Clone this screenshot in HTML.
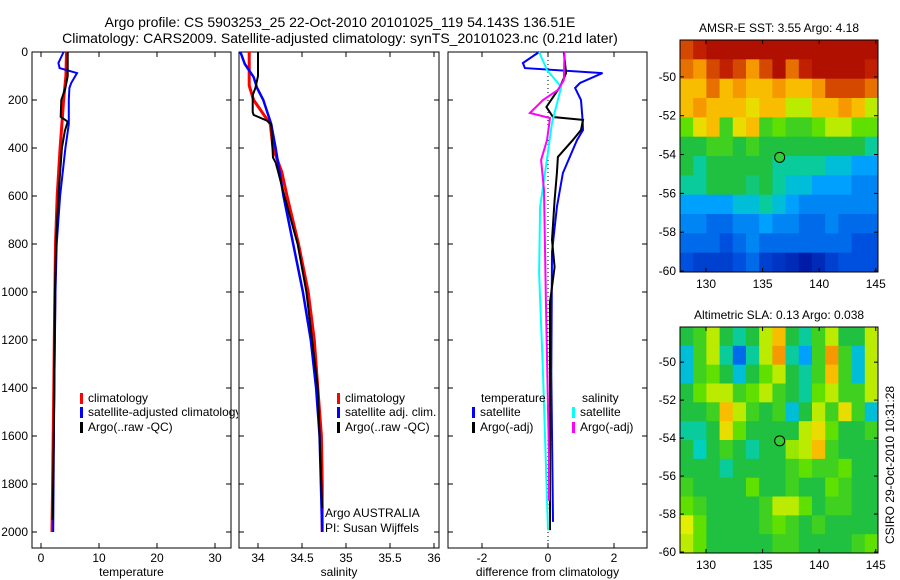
<!DOCTYPE html>
<html><head><meta charset="utf-8"><style>
body{margin:0;background:#fff;}
svg{display:block;font-family:"Liberation Sans",sans-serif;}
</style></head><body>
<svg id="c" width="900" height="580" xmlns="http://www.w3.org/2000/svg">
<defs><clipPath id="p1clip"><rect x="0" y="0" width="238" height="580"/></clipPath></defs>
<text x="340" y="27" font-size="14" text-anchor="middle">Argo profile: CS 5903253_25 22-Oct-2010 20101025_119 54.143S 136.51E</text>
<text x="340" y="43" font-size="14" text-anchor="middle">Climatology: CARS2009. Satellite-adjusted climatology: synTS_20101023.nc (0.21d later)</text>
</svg>
<script>
// ---- data ----
const depthTicks=[0,200,400,600,800,1000,1200,1400,1600,1800,2000];
const tempTicks=[0,10,20,30];
const salTicks=[34,34.5,35,35.5,36];
const diffTicks=[-2,0,2];
const tClimDepth=[0,100,200,300,400,600,800,1000,1200,1400,1600,1800,2000];
const tClimVal=[4.4,4.3,3.9,3.6,3.3,2.8,2.5,2.4,2.3,2.2,2.1,2.0,1.9];
const tSatDepth=[0,46,67,88,129,150,200,300,400,600,800,1000,1400,2000];
const tSatVal=[3.9,3.0,3.2,6.2,5.2,4.9,4.8,4.8,4.2,3.3,2.7,2.5,2.3,2.1];
const tArgoDepth=[0,100,150,200,270,290,330,400,600,800,1000,1400,1800,1950];
const tArgoVal=[4.6,4.6,4.2,3.5,3.4,4.6,4.1,3.6,3.0,2.6,2.4,2.3,2.1,2.0];
const sClimDepth=[0,140,200,300,400,500,600,800,1000,1200,1400,1600,1800,2000];
const sClimVal=[33.9,33.9,33.95,34.14,34.17,34.27,34.33,34.46,34.57,34.64,34.68,34.72,34.73,34.73];
const sSatDepth=[0,50,104,150,200,300,400,600,800,1000,1200,1400,1600,2000];
const sSatVal=[33.8,33.85,33.95,33.99,34.06,34.15,34.2,34.29,34.4,34.51,34.6,34.66,34.7,34.73];
const sArgoDepth=[0,100,150,180,250,262,286,300,440,460,500,600,800,1000,1400,1900];
const sArgoVal=[34.0,34.0,33.97,33.94,33.94,33.95,34.1,34.15,34.17,34.2,34.23,34.3,34.45,34.55,34.68,34.73];
const dTSatDepth=[0,46,67,88,129,150,200,283,325,367,504,646,833,1340,1958];
const dTSatVal=[-0.27,-0.76,-0.7,1.65,0.97,0.82,1.0,1.05,1.06,0.88,0.45,0.27,0.12,0.1,0.15];
const dTArgoDepth=[0,88,146,229,271,283,325,367,437,504,617,783,896,1042,1992];
const dTArgoVal=[0.48,0.55,0.36,-0.05,0.15,1.06,1.0,0.75,0.3,0.27,0.2,0.12,0.2,0.06,0.06];
const dSSatDepth=[0,75,146,296,504,646,921,1338,1992];
const dSSatVal=[-0.27,-0.03,0.4,0.12,-0.09,-0.24,-0.27,-0.15,0.0];
const dSArgoDepth=[0,117,158,200,254,275,367,450,575,1062,1688,1870];
const dSArgoVal=[0.5,0.48,0.3,-0.15,-0.55,0.06,-0.03,-0.21,-0.12,-0.06,0.03,0.03];
const sstGrid=[
[0.85,0.9,0.95,0.95,0.95,0.95,0.95,0.95,0.95,0.95,0.95,0.95,0.95,0.95,0.95],
[0.8,0.75,0.85,0.9,0.85,0.75,0.85,0.95,0.8,0.9,0.95,0.95,0.95,0.95,0.9],
[0.7,0.7,0.8,0.7,0.75,0.7,0.7,0.75,0.7,0.7,0.75,0.85,0.85,0.85,0.8],
[0.7,0.75,0.7,0.7,0.7,0.65,0.7,0.7,0.6,0.6,0.7,0.7,0.75,0.7,0.6],
[0.55,0.65,0.7,0.5,0.65,0.7,0.5,0.55,0.5,0.5,0.55,0.6,0.6,0.55,0.55],
[0.45,0.45,0.5,0.5,0.45,0.5,0.45,0.45,0.45,0.45,0.45,0.45,0.45,0.45,0.4],
[0.45,0.4,0.45,0.45,0.45,0.45,0.45,0.4,0.4,0.4,0.4,0.35,0.35,0.3,0.3],
[0.4,0.4,0.45,0.45,0.45,0.42,0.45,0.4,0.35,0.35,0.3,0.3,0.3,0.25,0.25],
[0.3,0.3,0.3,0.3,0.35,0.35,0.4,0.35,0.3,0.25,0.25,0.25,0.25,0.25,0.25],
[0.25,0.25,0.2,0.2,0.25,0.25,0.3,0.25,0.25,0.2,0.2,0.25,0.2,0.2,0.2],
[0.2,0.2,0.2,0.15,0.2,0.25,0.2,0.2,0.2,0.2,0.2,0.2,0.2,0.15,0.15],
[0.15,0.12,0.12,0.12,0.15,0.2,0.12,0.1,0.08,0.05,0.08,0.12,0.15,0.15,0.15]];
const slaGrid=[
[0.45,0.5,0.6,0.45,0.4,0.45,0.6,0.7,0.45,0.4,0.5,0.6,0.45,0.45,0.6],
[0.35,0.5,0.6,0.4,0.2,0.4,0.6,0.75,0.4,0.3,0.5,0.75,0.5,0.35,0.6],
[0.35,0.5,0.55,0.45,0.35,0.45,0.55,0.6,0.45,0.4,0.5,0.7,0.5,0.35,0.6],
[0.45,0.55,0.6,0.6,0.5,0.55,0.6,0.5,0.45,0.4,0.55,0.6,0.5,0.5,0.6],
[0.45,0.45,0.5,0.7,0.6,0.5,0.45,0.5,0.35,0.45,0.6,0.5,0.65,0.5,0.35],
[0.4,0.4,0.45,0.65,0.55,0.45,0.45,0.45,0.45,0.6,0.65,0.55,0.45,0.45,0.5],
[0.45,0.38,0.45,0.5,0.45,0.4,0.45,0.45,0.58,0.6,0.7,0.5,0.45,0.45,0.45],
[0.45,0.45,0.45,0.4,0.45,0.45,0.45,0.45,0.5,0.55,0.5,0.5,0.55,0.45,0.45],
[0.5,0.45,0.45,0.45,0.45,0.55,0.45,0.45,0.5,0.45,0.45,0.55,0.5,0.45,0.45],
[0.55,0.5,0.45,0.45,0.45,0.45,0.5,0.6,0.6,0.55,0.45,0.5,0.5,0.45,0.45],
[0.62,0.55,0.45,0.45,0.45,0.45,0.5,0.55,0.5,0.45,0.5,0.45,0.45,0.45,0.45],
[0.6,0.55,0.45,0.45,0.45,0.45,0.45,0.5,0.5,0.45,0.45,0.45,0.45,0.5,0.55]];
const lonTicks=[130,135,140,145];
const latTicks=[-50,-52,-54,-56,-58,-60];
const argoLon=136.51, argoLat=-54.143;

// ---- drawing ----
const NS="http://www.w3.org/2000/svg";
const svg=document.getElementById('c');
function el(tag,attrs,parent){const e=document.createElementNS(NS,tag);for(const k in attrs)e.setAttribute(k,attrs[k]);(parent||svg).appendChild(e);return e;}
function txt(x,y,s,attrs){const t=el('text',Object.assign({x:x,y:y,'font-size':12},attrs||{}));t.textContent=s;return t;}
const Y0=52, YPX=0.24, YB=548;
const yD=d=>Y0+d*YPX;
function panel(name,x0,x1,ticks,scale,xlabel,showY){
  const g=el('g',{});
  
  
  el('rect',{x:x0,y:Y0,width:x1-x0,height:YB-Y0,fill:'none',stroke:'#000','stroke-width':1},g);
  ticks.forEach(v=>{const x=scale(v);
    el('line',{x1:x,x2:x,y1:YB,y2:YB-5,stroke:'#000'},g);
    el('line',{x1:x,x2:x,y1:Y0,y2:Y0+5,stroke:'#000'},g);
    const t=txt(x,562,String(v),{'text-anchor':'middle'});
    
    
  });
  depthTicks.forEach(d=>{const y=yD(d);
    el('line',{x1:x0,x2:x0+5,y1:y,y2:y,stroke:'#000'},g);
    el('line',{x1:x1,x2:x1-5,y1:y,y2:y,stroke:'#000'},g);
    if(showY){const t=txt(x0-4,y+4,String(d),{'text-anchor':'end'});
      
      }
  });
  const l=txt((x0+x1)/2,576,xlabel,{'text-anchor':'middle'});
  
  
}
function series(name,depths,vals,scale,color,w){
  const p=depths.map((d,i)=>scale(vals[i]).toFixed(1)+','+yD(d).toFixed(1)).join(' ');
  const e=el('polyline',{points:p,fill:'none',stroke:color,'stroke-width':w||2});
  
  
}
function legend(x,y,color,label,name){
  const r=el('rect',{x:x,y:y-9,width:3,height:11,fill:color});
  
  
  const t=txt(x+8,y,label);
  
  
  return t;
}
const sT=v=>41+v*5.8, sS=v=>258+(v-34)*88, sD=v=>548+v*33;
panel('temperature-panel',32,231,tempTicks,sT,'temperature',true);
panel('salinity-panel',239,439,salTicks,sS,'salinity',false);
panel('difference-panel',448,647,diffTicks,sD,'difference from climatology',false);
const z=el('line',{x1:sD(0),x2:sD(0),y1:Y0,y2:YB,stroke:'#000','stroke-dasharray':'1,3'});


series('temp-climatology',tClimDepth,tClimVal,sT,'#f00',3);
series('temp-satellite-adjusted',tSatDepth,tSatVal,sT,'#00f',2);
series('temp-argo',tArgoDepth,tArgoVal,sT,'#000',2);
series('sal-climatology',sClimDepth,sClimVal,sS,'#f00',3);
series('sal-satellite-adjusted',sSatDepth,sSatVal,sS,'#00f',2.5);
series('sal-argo',sArgoDepth,sArgoVal,sS,'#000',2);
series('diff-temp-satellite',dTSatDepth,dTSatVal,sD,'#00f',2);
series('diff-temp-argo',dTArgoDepth,dTArgoVal,sD,'#000',2);
series('diff-sal-satellite',dSSatDepth,dSSatVal,sD,'#0ff',2);
series('diff-sal-argo',dSArgoDepth,dSArgoVal,sD,'#f0f',2);
legend(80,402,'#f00','climatology','legend-climatology');
const lt=legend(80,416,'#00f','satellite-adjusted climatology','legend-satellite-adjusted');
lt.setAttribute('clip-path','url(#p1clip)');
legend(80,431,'#000','Argo(..raw -QC)','legend-argo');
legend(337,402,'#f00','climatology','legend-sal-climatology');
legend(337,416,'#00f','satellite adj. clim.','legend-sal-satellite');
legend(337,431,'#000','Argo(..raw -QC)','legend-sal-argo');
let t=txt(481,402,'temperature');
t=txt(582,402,'salinity');
legend(472,416,'#00f','satellite','legend-diff-temp-satellite');
legend(472,431,'#000','Argo(-adj)','legend-diff-temp-argo');
legend(572,416,'#0ff','satellite','legend-diff-sal-satellite');
legend(572,431,'#f0f','Argo(-adj)','legend-diff-sal-argo');
t=txt(325,517,'Argo AUSTRALIA');
t=txt(325,532,'PI: Susan Wijffels');
// ---- heatmaps ----
const stops=[[0,[0,0,138]],[0.15,[0,80,224]],[0.3,[0,160,255]],[0.38,[0,208,192]],[0.45,[32,192,64]],[0.55,[96,224,0]],[0.62,[224,240,0]],[0.72,[255,176,0]],[0.82,[224,96,0]],[0.9,[192,32,0]],[1,[160,0,0]]];
function cmap(v){for(let i=1;i<stops.length;i++){if(v<=stops[i][0]){const a=stops[i-1],b=stops[i],f=(v-a[0])/(b[0]-a[0]);return 'rgb('+a[1].map((c,k)=>Math.round(c+(b[1][k]-c)*f)).join(',')+')';}}return 'rgb(160,0,0)';}
function heatmap(name,grid,x0,x1,top,bot,latTop,latBot,title){
  const lonL=127.7,lonR=145.2;
  const sx=l=>x0+(l-lonL)/(lonR-lonL)*(x1-x0);
  const sy=la=>top+(latTop-la)/(latTop-latBot)*(bot-top);
  const g=el('g',{});
  
  
  const rows=grid.length, cols=grid[0].length;
  const dLon=(lonR-lonL)/cols, dLat=(latTop-latBot)/rows;
  grid.forEach((row,r)=>row.forEach((v,c)=>{
    const xa=sx(lonL+c*dLon), xb=sx(lonL+(c+1)*dLon), ya=sy(latTop-r*dLat), yb=sy(latTop-(r+1)*dLat);
    const cell=el('rect',{x:xa,y:ya,width:xb-xa+0.5,height:yb-ya+0.5,fill:cmap(v)},g);
    
    
  }));
  el('rect',{x:x0,y:top,width:x1-x0,height:bot-top,fill:'none',stroke:'#000'},g);
  lonTicks.forEach(l=>{const x=sx(l);el('line',{x1:x,x2:x,y1:bot,y2:bot-4,stroke:'#000'},g);el('line',{x1:x,x2:x,y1:top,y2:top+4,stroke:'#000'},g);
    const tl=txt(x,bot+16,String(l),{'text-anchor':'middle'});});
  latTicks.forEach(la=>{const y=sy(la);el('line',{x1:x0,x2:x0+4,y1:y,y2:y,stroke:'#000'},g);el('line',{x1:x1,x2:x1-4,y1:y,y2:y,stroke:'#000'},g);
    const tl=txt(x0-4,y+4,String(la),{'text-anchor':'end'});});
  const c=el('circle',{cx:sx(argoLon),cy:sy(argoLat),r:5,fill:'#3c3',stroke:'#000'},g);
  
  
  const tt=txt((x0+x1)/2,top-8,title,{'text-anchor':'middle'});
  
  
}
heatmap('sst-map',sstGrid,680,878,40,272,-48.1,-60.05,'AMSR-E SST: 3.55 Argo: 4.18');
heatmap('sla-map',slaGrid,680,878,327,553,-48.15,-60.05,'Altimetric SLA: 0.13 Argo: 0.038');
t=txt(0,0,'CSIRO 29-Oct-2010 10:31:28',{'text-anchor':'middle',transform:'translate(894,465) rotate(-90)'});


</script>
</body></html>
